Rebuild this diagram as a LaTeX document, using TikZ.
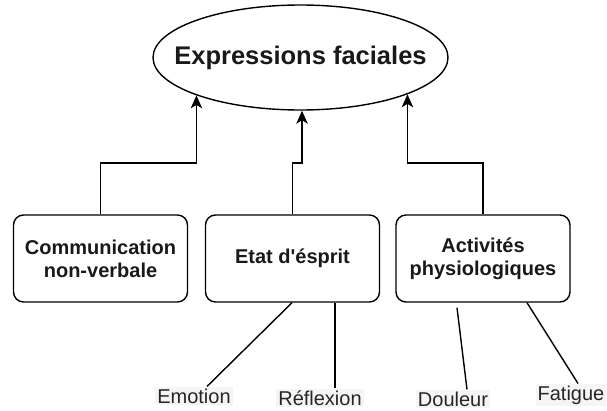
\documentclass[tikz,border=0pt]{standalone}
\usepackage{fontspec}
\setmainfont{Liberation Sans}
\usetikzlibrary{arrows.meta,shapes.geometric}
\begin{document}
\begin{tikzpicture}[x=1pt,y=-1pt,
  ln/.style={line width=1.4pt, draw=black},
  arr/.style={ln, -{Stealth[length=13pt,width=11.5pt,inset=3.5pt]}},
  cat/.style={ln, rounded corners=10pt, minimum width=174pt, minimum height=87pt,
    align=center, inner sep=0pt, text=black!90,
    font=\fontsize{20}{23}\selectfont\bfseries},
  leaf/.style={fill=black!4, inner sep=2pt, text=black!85,
    font=\fontsize{20}{23}\selectfont}
]
\useasboundingbox (0,0) rectangle (607,410);

% central concept: outline and its title
\node[ln, ellipse, minimum width=295pt, minimum height=105pt, inner sep=0pt] (ell) at (300.5,57.5) {};
\node[font=\fontsize{25.5}{30}\selectfont\bfseries, text=black!90] (title) at (ell.center) {Expressions faciales};

% three categories
\node[cat] (b1) at (100.5,258.5) {Communication\\non-verbale};
\node[cat] (b2) at (292.5,258.5) {Etat d\textquotesingle ésprit};
\node[cat] (b3) at (483,258.5) {Activités\\physiologiques};

% elbow connectors up to the ellipse
\coordinate (j1) at (ell.200 |- 0,163);
\coordinate (j2) at ([xshift=1.5pt]ell.south |- 0,163);
\coordinate (j3) at (ell.341 |- 0,163);
\draw[arr] (b1.north) |- (j1) -- (ell.200);
\draw[arr] (b2.north) |- (j2) -- ([xshift=1.5pt]ell.south);
\draw[arr] (b3.north) |- (j3) -- (ell.341);

% leaf labels
\node[leaf] (emo) at (194,396) {Emotion};
\node[leaf] (ref) at (320,398) {Réflexion};
\node[leaf] (dou) at (453,399) {Douleur};
\node[leaf] (fat) at (571,395) {Fatigue};

% plain links from categories to leaves
\draw[ln] ([xshift=-0.5pt]b2.south) -- ([xshift=13pt]emo.north);
\draw[ln] ([xshift=42.5pt]b2.south) -- ([xshift=15pt]ref.north);
\draw[ln] ([xshift=-26pt,yshift=-5pt]b3.south) -- ([xshift=14pt]dou.north);
\draw[ln] ([xshift=44pt]b3.south) -- ([xshift=7pt]fat.north);
\end{tikzpicture}
\end{document}
